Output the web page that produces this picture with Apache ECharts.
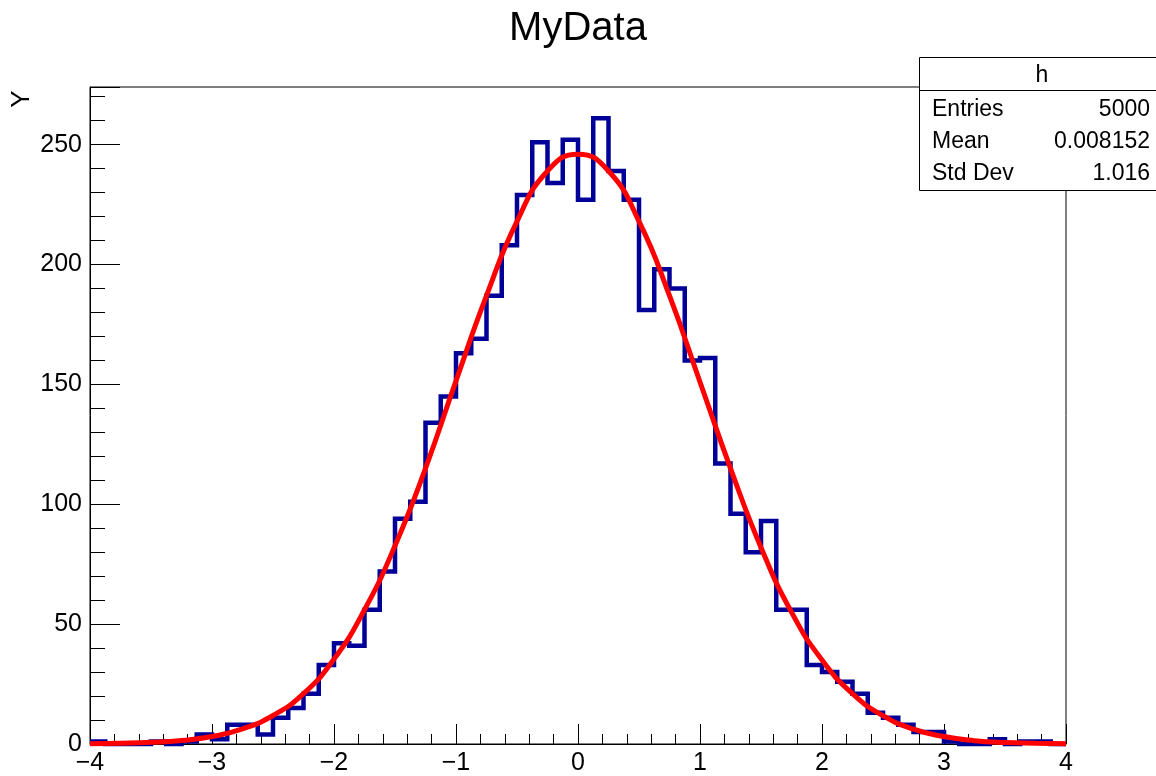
<!DOCTYPE html>
<html><head><meta charset="utf-8">
<script src="https://cdn.jsdelivr.net/npm/echarts@6/dist/echarts.min.js"></script>
<style>html,body{margin:0;padding:0;background:#fff}#c{width:1156px;height:776px}</style>
</head><body><div id="c"></div>
<script>
const chartTitle = 'MyData';
const yTitle = 'Y';
const histName = 'h';
const xMin = -4, xMax = 4, binWidth = 0.125;
const yMin = 0, yMax = 274.05;
// histogram bin contents (64 bins of width 0.125 from -4 to 4)
const counts = [
  1, 0, 0, 0, 1, 0, 1, 4,
  2, 8, 8, 4, 11, 15, 21, 33,
  42, 41, 56, 72, 94, 101, 134, 145,
  163, 169, 187, 208, 229, 251, 234, 252,
  227, 261, 239, 227, 181, 198, 190, 160,
  161, 117, 96, 80, 93, 56, 56, 33,
  30, 26, 21, 13, 11, 8, 5, 5,
  1, 0, 0, 2, 0, 1, 1, 0
];
// fitted curve
const fitX = [-4, -3.75, -3.5, -3.25, -3, -2.75, -2.5, -2.25, -2, -1.75, -1.5, -1.25, -1, -0.75, -0.5, -0.25, 0,
  0.25, 0.5, 0.75, 1, 1.25, 1.5, 1.75, 2, 2.25, 2.5, 2.75, 3, 3.25, 3.5, 3.75, 4];
const fitY = [0.1, 0.3, 0.7, 1.5, 3.1, 6.3, 11.9, 21, 35.4, 56, 82.7, 115, 151.5, 187, 218, 239, 246,
  239, 218, 187, 151, 115, 82, 55, 35, 21, 11.8, 6.2, 3.1, 1.4, 0.6, 0.3, 0.1];
const statsLabels = ['Entries', 'Mean', 'Std Dev'];
const statsValues = ['5000', '0.008152', '1.016'];

const FONT = '"Liberation Sans", Arial, Helvetica, sans-serif';
const histData = counts.map((c, i) => [xMin + i * binWidth, c]);
histData.push([xMax, counts[counts.length - 1]]);
const fitData = fitX.map((x, i) => [x, fitY[i]]);

const chart = echarts.init(document.getElementById('c'), null, {renderer: 'canvas'});

const gridL = 90, gridR = 90, gridT = 87, gridB = 29;
const boxX = 919.5, boxY = 57.5, boxW = 245, boxH = 133;
const statsGraphics = [
  {type: 'rect', z: 100, shape: {x: boxX, y: boxY, width: boxW, height: boxH},
   style: {fill: '#fff', stroke: '#000', lineWidth: 1}},
  {type: 'line', z: 101, shape: {x1: boxX, y1: 90.5, x2: boxX + boxW, y2: 90.5},
   style: {stroke: '#000', lineWidth: 1}},
  {type: 'text', z: 102, x: 1042, y: 76,
   style: {text: histName, align: 'center', verticalAlign: 'middle', fontSize: 23, fontFamily: FONT, fill: '#000'}}
];
statsLabels.forEach((lab, i) => {
  const cy = 110 + i * 31.8;
  statsGraphics.push({type: 'text', z: 102, x: 932, y: cy,
    style: {text: lab, align: 'left', verticalAlign: 'middle', fontSize: 23, fontFamily: FONT, fill: '#000'}});
  statsGraphics.push({type: 'text', z: 102, x: 1150, y: cy,
    style: {text: statsValues[i], align: 'right', verticalAlign: 'middle', fontSize: 23, fontFamily: FONT, fill: '#000'}});
});

const option = {
  animation: false,
  backgroundColor: '#fff',
  grid: {left: gridL, right: gridR, top: gridT, bottom: gridB, show: true,
         borderColor: '#000', borderWidth: 1, backgroundColor: 'transparent', containLabel: false},
  xAxis: {
    type: 'value', min: xMin, max: xMax, interval: 1,
    axisLine: {show: true, onZero: false, lineStyle: {color: '#000', width: 1}},
    axisTick: {show: true, inside: true, length: 20, lineStyle: {color: '#000', width: 1}},
    minorTick: {show: true, splitNumber: 5, length: 10, lineStyle: {color: '#000', width: 1}},
    splitLine: {show: false}, minorSplitLine: {show: false},
    axisLabel: {show: true, margin: 7, fontSize: 25, fontFamily: FONT, color: '#000',
      formatter: v => String(v).replace('-', '\u2212')}
  },
  yAxis: [{
    type: 'value', min: yMin, max: yMax, interval: 50, position: 'left',
    axisLine: {show: true, onZero: false, lineStyle: {color: '#000', width: 1}},
    axisTick: {show: true, inside: true, length: 30, lineStyle: {color: '#000', width: 1}},
    splitLine: {show: false},
    axisLabel: {show: true, margin: 8, fontSize: 25, fontFamily: FONT, color: '#000',
      formatter: v => (Math.abs(v % 50) < 1e-9 ? String(v) : '')}
  }, {
    type: 'value', min: yMin, max: yMax, interval: 10, position: 'left', offset: 0,
    axisLine: {show: false, onZero: false},
    axisTick: {show: true, inside: true, length: 15, lineStyle: {color: '#000', width: 1}},
    splitLine: {show: false},
    axisLabel: {show: false}
  }],
  graphic: [
    {type: 'text', x: 578, y: 29,
     style: {text: chartTitle, align: 'center', verticalAlign: 'middle', fontSize: 40, fontFamily: FONT, fill: '#000'}},
    {type: 'text', x: 22, y: 99, rotation: Math.PI / 2,
     style: {text: yTitle, align: 'center', verticalAlign: 'middle', fontSize: 26, fontFamily: FONT, fill: '#000'}}
  ].concat(statsGraphics),
  series: [{
    type: 'line', name: histName, data: histData, step: 'end', symbol: 'none', clip: false,
    lineStyle: {color: '#000099', width: 4.5, join: 'miter'}, z: 3
  }, {
    type: 'line', name: 'fit', data: fitData, smooth: true, symbol: 'none', clip: false,
    lineStyle: {color: '#ff0000', width: 5}, z: 4
  }]
};
chart.setOption(option);
</script>
</body></html>
